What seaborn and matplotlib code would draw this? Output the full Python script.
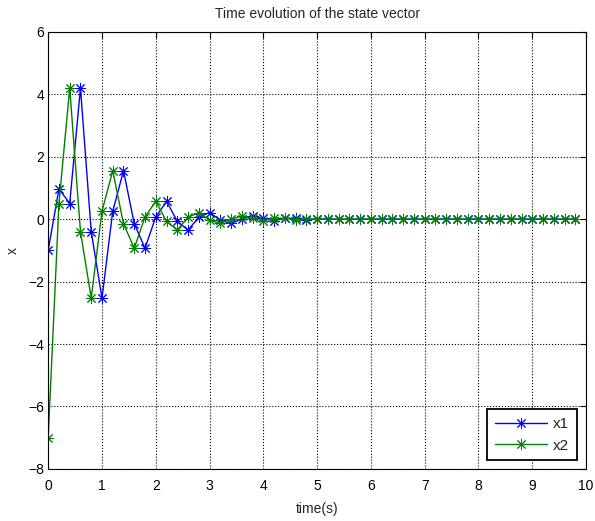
import numpy as np
import pandas as pd
import matplotlib
matplotlib.use("Agg")
import matplotlib.pyplot as plt
import seaborn as sns

# DATA (sample step 0.2 s)

time_s = [round(0.2 * i, 1) for i in range(50)]

x1 = [-1.0, 0.97, 0.5, 4.2, -0.4, -2.53, 0.25, 1.55, -0.15, -0.93,
      0.07, 0.57, -0.07, -0.35, 0.06, 0.21, -0.03, -0.14, 0.0, 0.1,
      0.02, -0.05, 0.03, 0.03, -0.02, 0.0, 0.01, -0.01, 0.0, 0.0,
      0.0, 0.0, 0.0, 0.0, 0.0, 0.0, 0.0, 0.0, 0.0, 0.0,
      0.0, 0.0, 0.0, 0.0, 0.0, 0.0, 0.0, 0.0, 0.0, 0.0]

x2 = [-7.0, 0.5, 4.2, -0.4, -2.53, 0.25, 1.55, -0.15, -0.93, 0.07,
      0.57, -0.07, -0.35, 0.06, 0.21, -0.03, -0.14, 0.0, 0.1, 0.02,
      -0.05, 0.03, 0.03, -0.02, 0.0, 0.01, -0.01, 0.0, 0.0, 0.0,
      0.0, 0.0, 0.0, 0.0, 0.0, 0.0, 0.0, 0.0, 0.0, 0.0,
      0.0, 0.0, 0.0, 0.0, 0.0, 0.0, 0.0, 0.0, 0.0, 0.0]

series_names = ["x1", "x2"]
series_colors = ["#0000ff", "#008000"]

x_ticks = list(range(0, 11))
y_ticks = list(range(-8, 7, 2))

df = pd.DataFrame({"time": time_s, "x1": x1, "x2": x2})

# STYLE

sns.set_style("white")
plt.rcParams["font.family"] = ["Liberation Sans", "DejaVu Sans"]
plt.rcParams["font.size"] = 10

fig = plt.figure(figsize=(5.95, 5.21), dpi=100)
ax = fig.add_axes([0.081, 0.100, 0.904, 0.839])

# PLOT

for name, col in zip(series_names, series_colors):
    sns.lineplot(
        data=df,
        x="time",
        y=name,
        ax=ax,
        color=col,
        linewidth=1.0,
        marker=(8, 2, 0),
        markersize=8,
        markeredgewidth=0.7,
        markeredgecolor=col,
        label=name,
    )

ax.set_xlim(0, 10)
ax.set_ylim(-8, 6)
ax.set_xticks(x_ticks)
ax.set_yticks(y_ticks)

ax.grid(True, color="black", linestyle=":", linewidth=0.8)
ax.tick_params(direction="in", length=4, width=0.8, top=True, right=True,
               colors="black", labelsize=10)
ax.tick_params(axis="x", pad=7)
ax.tick_params(axis="y", pad=3)
for sp in ax.spines.values():
    sp.set_color("black")
    sp.set_linewidth(0.8)

ax.set_title("Time evolution of the state vector", fontsize=10, pad=10)
ax.set_xlabel("time(s)", fontsize=10, labelpad=7)
ax.set_ylabel("x", fontsize=10, labelpad=6)

leg = ax.legend(
    loc="lower right",
    bbox_to_anchor=(0.983, 0.02),
    borderaxespad=0,
    fancybox=False,
    framealpha=1,
    edgecolor="black",
    handlelength=3.4,
    handletextpad=0.4,
    fontsize=11,
    borderpad=0.5,
    labelspacing=0.5,
)
leg.get_frame().set_linewidth(1.3)

fig.savefig("out.png", dpi=100)
